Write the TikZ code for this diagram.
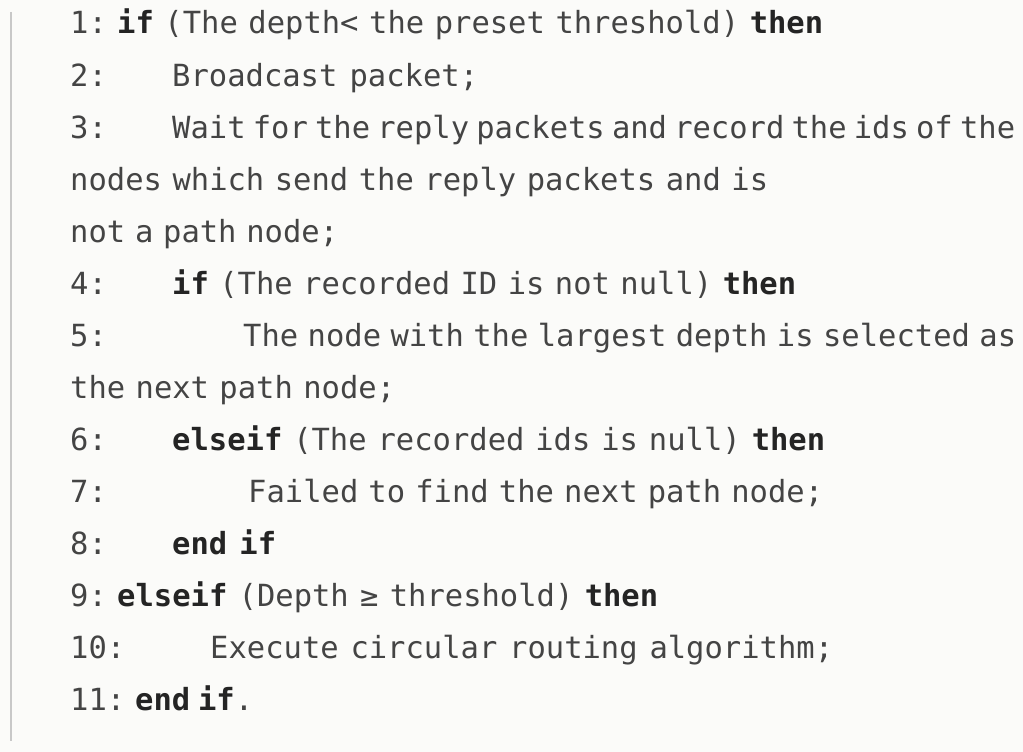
\documentclass[tikz,border=0pt]{standalone}
\usepackage{fontspec}
\setmonofont{DejaVu Sans Mono}
\definecolor{pagebg}{RGB}{251,251,249}
\definecolor{rulegray}{RGB}{200,200,200}
\definecolor{txtgray}{RGB}{68,68,68}
\definecolor{kwgray}{RGB}{36,36,36}
\newcommand{\kw}[1]{\textcolor{kwgray}{\bfseries #1}}
\newcommand{\stmt}[2]{\spaceskip=9pt plus 8pt minus 5pt\relax\makebox[#1pt][s]{#2}}
\tikzset{
    algtext/.style={anchor=base west, inner sep=0pt, text=txtgray,
        font=\ttfamily\fontsize{30.5}{30.5}\selectfont},
}
\begin{document}
\begin{tikzpicture}[x=1pt,y=-1pt]
    \fill[pagebg] (0,0) rectangle (1023,752);
    \useasboundingbox (0,0) rectangle (1023,752);
    \draw[rulegray, line width=1.5pt] (11,12) -- (11,741);
    % line numbers
    \foreach \row/\lno in {1/1,2/2,3/3,6/4,7/5,9/6,10/7,11/8,12/9,13/10,14/11}{
        \node[algtext] (n\row) at (70,{34+52*(\row-1)}) {\lno:};
    }
    % statements, each set to the width it has in the listing
    \foreach \row/\x/\w/\txt in {
        1/117/706/{\kw{if} (The depth< the preset threshold) \kw{then}},
        2/172/306/{Broadcast packet;},
        3/172/843/{Wait for the reply packets and record the ids of the},
        4/70/698/{nodes which send the reply packets and is},
        5/70/268/{not a path node;},
        6/172/624/{\kw{if} (The recorded ID is not null) \kw{then}},
        7/243/773/{The node with the largest depth is selected as},
        8/70/325/{the next path node;},
        9/172/653/{\kw{elseif} (The recorded ids is null) \kw{then}},
        10/248/575/{Failed to find the next path node;},
        11/172/104/{\kw{end if}},
        12/117/541/{\kw{elseif} (Depth ≥ threshold) \kw{then}},
        13/210/623/{Execute circular routing algorithm;},
        14/135/118/{\kw{end if}.}}{
        \node[algtext] (t\row) at (\x,{34+52*(\row-1)}) {\stmt{\w}{\txt}};
    }
\end{tikzpicture}
\end{document}
